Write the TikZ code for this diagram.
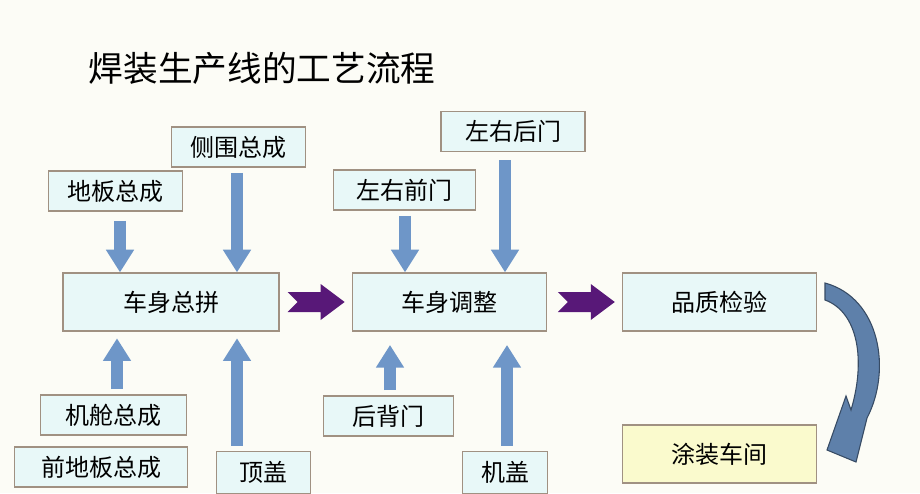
\documentclass[tikz,border=0pt]{standalone}
\usepackage{fontspec}
\newfontfamily\cjk{Noto Sans CJK SC}
\usetikzlibrary{arrows.meta,calc}
\definecolor{boxfill}{RGB}{232,248,248}
\definecolor{boxline}{RGB}{160,145,130}
\definecolor{arrblue}{RGB}{110,150,200}
\definecolor{arrpurple}{RGB}{88,24,120}
\definecolor{yelfill}{RGB}{250,250,205}
\definecolor{bgcol}{RGB}{252,252,246}
\tikzset{
  box/.style={draw=boxline, fill=boxfill, line width=0.9pt, inner sep=0pt, font=\cjk\fontsize{18}{18}\selectfont},
  blk/.style={draw=arrblue, line width=9pt, -{Triangle[width=20pt,length=17pt]}, arrblue},
}
\begin{document}
\begin{tikzpicture}[x=0.75pt,y=0.75pt,yscale=-1,xscale=1]
\fill[bgcol] (0,0) rectangle (920,493);
\useasboundingbox (0,0) rectangle (920,493);

% title
\node[anchor=west, font=\cjk\fontsize{26}{26}\selectfont] (title) at (84,68) {焊装生产线的工艺流程};

% boxes
\node[box, minimum width=101pt, minimum height=30pt] (dbzc) at (115.5,191) {地板总成};
\node[box, minimum width=100pt, minimum height=30pt] (cwzc) at (238.5,147) {侧围总成};
\node[box, minimum width=162pt, minimum height=43.5pt] (zp) at (171,302) {车身总拼};
\node[box, minimum width=107pt, minimum height=30pt] (qm) at (404.5,190) {左右前门};
\node[box, minimum width=108pt, minimum height=30pt] (hm) at (513,131.5) {左右后门};
\node[box, minimum width=145pt, minimum height=43.5pt] (tz) at (449.5,302) {车身调整};
\node[box, minimum width=146pt, minimum height=43.5pt] (zj) at (719.5,302) {品质检验};
\node[box, fill=yelfill, minimum width=146pt, minimum height=43.5pt] (tzcj) at (719.5,454) {涂装车间};
\node[box, minimum width=110pt, minimum height=30pt] (jc) at (113.5,415) {机舱总成};
\node[box, minimum width=130pt, minimum height=30pt] (qdb) at (101,467) {前地板总成};
\node[box, minimum width=98pt, minimum height=30pt] (hbm) at (388.5,416) {后背门};
\node[box, minimum width=70pt, minimum height=31pt] (dg) at (263.5,472.5) {顶盖};
\node[box, minimum width=64pt, minimum height=31pt] (jg) at (505,472.5) {机盖};

% feed arrows
\draw[blk, shorten <=7pt] (dbzc.south -| 120,0) -- (zp.north -| 120,0);
\draw[blk, shorten <=4pt] (cwzc.south -| 237,0) -- (zp.north -| 237,0);
\draw[blk, shorten <=4pt] (qm.south -| 405,0) -- (tz.north -| 405,0);
\draw[blk, shorten <=6pt] (hm.south -| 505,0) -- (tz.north -| 505,0);
\draw[blk, shorten <=4pt, shorten >=5pt] (jc.north -| 117,0) -- (zp.south -| 117,0);
\draw[blk, shorten <=4pt, shorten >=5pt] (dg.north -| 237,0) -- (zp.south -| 237,0);
\draw[blk, shorten <=4pt, shorten >=10pt] (hbm.north -| 390,0) -- (tz.south -| 390,0);
\draw[blk, shorten <=4pt, shorten >=10pt] (jg.north -| 507,0) -- (tz.south -| 507,0);

% chevrons
\fill[arrpurple] ($(zp.east)+(8,-10)$) -- ++(33,0) -- ++(0,-8) -- ++(24,18) -- ++(-24,18) -- ++(0,-8) -- ++(-33,0) -- ++(10,-10) -- cycle;
\fill[arrpurple] ($(tz.east)+(11,-10)$) -- ++(33,0) -- ++(0,-8) -- ++(24,18) -- ++(-24,18) -- ++(0,-8) -- ++(-33,0) -- ++(10,-10) -- cycle;

% curved arrow
\fill[arrblue!85!black, draw=arrblue!50!black, line width=0.8pt]
  (825,283) .. controls (880,298) and (892,370) .. (867,418)
  -- (856,462) -- (827,450) -- (846,396) -- (851,410)
  .. controls (866,360) and (858,312) .. (825,300) -- cycle;
\end{tikzpicture}
\end{document}
